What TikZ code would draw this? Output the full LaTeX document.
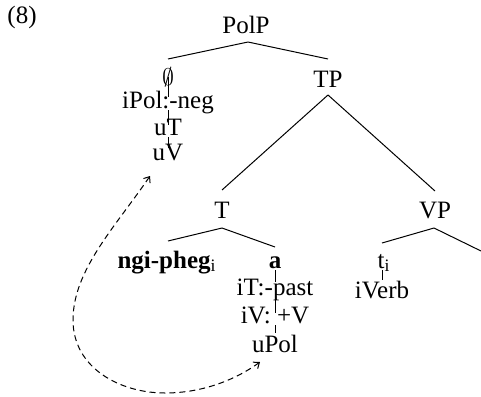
\documentclass[tikz,border=0pt]{standalone}
\usepackage{fontspec}
\setmainfont{Liberation Serif}
\usetikzlibrary{calc,arrows.meta}
\begin{document}
\begin{tikzpicture}[x=0.5pt,y=-0.5pt,
  lbl/.style={anchor=base,inner sep=0pt,font=\fontsize{12.5}{14}\selectfont},
  branch/.style={line width=0.5pt},
  featline/.style={line width=0.4pt},
  movement/.style={line width=0.5pt,dash pattern=on 3pt off 2pt,
    {Straight Barb[length=2.5pt,width=4pt]}-{Straight Barb[length=2.5pt,width=4pt]}}]
\useasboundingbox (0,0) rectangle (481,396);
% labels
\node[lbl] (ex) at (22,23) {(8)};
\node[lbl] (polp) at (246,33) {PolP};
\node[lbl] (nul) at (168,85) {$\emptyset$};
\node[lbl] (ipol) at (168,108) {iPol:-neg};
\node[lbl] (ut) at (168,135) {uT};
\node[lbl] (uv) at (168,160) {uV};
\node[lbl] (tp) at (328,87) {TP};
\node[lbl] (t) at (222,218) {T};
\node[lbl] (vp) at (435,218) {VP};
\node[lbl] (ngi) at (167,268) {\textbf{ngi-pheg}\textsubscript{i}};
\node[lbl] (a) at (275,268) {\textbf{a}};
\node[lbl] (it) at (275,295) {iT:-past};
\node[lbl] (iv) at (275,323) {iV: +V};
\node[lbl] (upol) at (275,352) {uPol};
\node[lbl] (ti) at (384,268) {t\textsubscript{i}};
\node[lbl] (iverb) at (382,298) {iVerb};
\coordinate (vpr) at (481,251);
% branches
\draw[branch] ($(polp.base)+(2,9)$) -- ($(nul.base)+(0,-26)$);
\draw[branch] ($(polp.base)+(2,9)$) -- ($(tp.base)+(0,-28)$);
\draw[branch] ($(tp.base)+(0,8)$) -- ($(t.base)+(0,-28)$);
\draw[branch] ($(tp.base)+(0,8)$) -- ($(vp.base)+(0,-27)$);
\draw[branch] ($(t.base)+(0,10)$) -- ($(ngi.base)+(1,-27)$);
\draw[branch] ($(t.base)+(0,10)$) -- ($(a.base)+(0,-21)$);
\draw[branch] ($(vp.base)+(-1,10)$) -- ($(ti.base)+(-2,-25)$);
\draw[branch] ($(vp.base)+(-1,10)$) -- (vpr);
% feature lines
\draw[featline] ($(nul.base)+(0,-8)$) -- ($(ipol.base)+(0,-11)$);
\draw[featline] ($(ipol.base)+(0,2)$) -- ($(ut.base)+(0,-10)$);
\draw[featline] ($(ut.base)+(0,2)$) -- ($(uv.base)+(0,-12)$);
\draw[featline] ($(a.base)+(0,2)$) -- ($(it.base)+(0,-13)$);
\draw[featline] ($(it.base)+(0,5)$) -- ($(iv.base)+(0,-10)$);
\draw[featline] ($(iv.base)+(0,2)$) -- ($(upol.base)+(0,-19)$);
\draw[featline] ($(ti.base)+(-2,2)$) -- ($(iverb.base)+(0,-18)$);
% movement
\coordinate (mvs) at (150,176);
\coordinate (mve) at (260,362);
\draw[movement] (mvs) .. controls (116,226) and (73,270) .. (73,320)
  .. controls (73,368) and (120,393) .. (165,393)
  .. controls (205,393) and (238,378) .. (mve);
\end{tikzpicture}
\end{document}
